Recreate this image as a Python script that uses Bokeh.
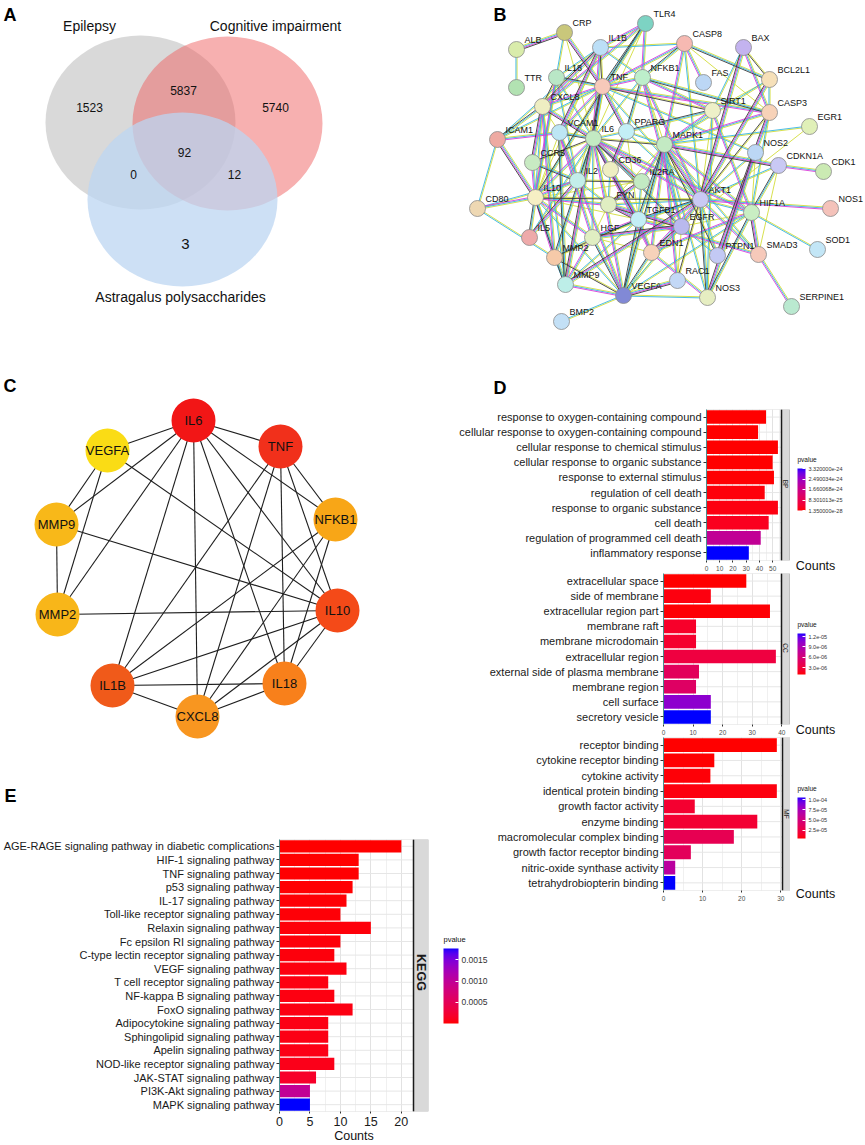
import math
from bokeh.plotting import figure
from bokeh.layouts import row, column
from bokeh.models import (Range1d, FactorRange, ColorBar, LinearColorMapper, FixedTicker,
                          CustomJSTickFormatter, Span, BoxAnnotation, Label, ColumnDataSource)
from bokeh.transform import transform
from bokeh.core.properties import value
from bokeh.embed import file_html
from bokeh.resources import INLINE

FONT = "Liberation Sans"

# ============================ DATA ============================
venn_sets = ["Epilepsy", "Cognitive impairment", "Astragalus polysaccharides"]
# Epilepsy only, Epi&Cog, Cog only, all three, Epi&Ast, Cog&Ast, Ast only
venn_region_counts = [1523, 5837, 5740, 92, 0, 12, 3]

hub_genes = ["IL6", "TNF", "NFKB1", "IL10", "IL18", "CXCL8", "IL1B", "MMP2", "MMP9", "VEGFA"]
hub_edges = [("IL6", "VEGFA"), ("IL6", "TNF"), ("IL6", "MMP9"), ("IL6", "MMP2"), ("IL6", "IL1B"),
             ("IL6", "CXCL8"), ("IL6", "IL18"), ("IL6", "IL10"), ("IL6", "NFKB1"),
             ("TNF", "IL1B"), ("TNF", "CXCL8"), ("TNF", "IL18"), ("TNF", "IL10"), ("TNF", "NFKB1"),
             ("VEGFA", "MMP9"), ("VEGFA", "MMP2"), ("VEGFA", "IL10"),
             ("MMP9", "MMP2"), ("MMP9", "IL10"), ("MMP2", "IL10"),
             ("NFKB1", "IL1B"), ("NFKB1", "CXCL8"), ("NFKB1", "IL18"),
             ("IL10", "IL1B"), ("IL10", "CXCL8"), ("IL10", "IL18"),
             ("IL1B", "IL18"), ("IL1B", "CXCL8"), ("CXCL8", "IL18")]

string_genes = ["TLR4", "CRP", "ALB", "TTR", "IL1B", "CASP8", "BAX", "IL18", "TNF", "NFKB1", "FAS",
                "BCL2L1", "CXCL8", "SIRT1", "CASP3", "EGR1", "ICAM1", "VCAM1", "IL6", "PPARG", "MAPK1",
                "NOS2", "CDKN1A", "CDK1", "CCR5", "CD36", "IL2", "IL2RA", "IL10", "CD80", "FYN", "AKT1",
                "HIF1A", "NOS1", "TGFB1", "EGFR", "IL5", "HGF", "SOD1", "SMAD3", "EDN1", "PTPN1", "MMP2",
                "RAC1", "MMP9", "VEGFA", "NOS3", "SERPINE1", "BMP2"]
string_edges = [
    ("ALB", "CRP"), ("ALB", "TTR"), ("CRP", "IL6"), ("CRP", "TNF"), ("CRP", "IL10"),
    ("TLR4", "IL1B"), ("TLR4", "TNF"), ("TLR4", "IL6"), ("TLR4", "NFKB1"), ("TLR4", "IL10"), ("TLR4", "CXCL8"),
    ("IL1B", "CASP8"), ("IL1B", "TNF"), ("IL1B", "IL6"), ("IL1B", "IL18"), ("IL1B", "CXCL8"), ("IL1B", "NFKB1"),
    ("IL1B", "IL10"), ("IL1B", "VCAM1"), ("IL1B", "ICAM1"),
    ("CASP8", "FAS"), ("CASP8", "BCL2L1"), ("CASP8", "CASP3"), ("CASP8", "TNF"), ("CASP8", "NFKB1"),
    ("CASP8", "MAPK1"), ("CASP8", "AKT1"),
    ("BAX", "BCL2L1"), ("BAX", "CASP3"), ("BAX", "SIRT1"), ("BAX", "AKT1"),
    ("BCL2L1", "CASP3"), ("BCL2L1", "SIRT1"), ("BCL2L1", "AKT1"), ("BCL2L1", "MAPK1"),
    ("TNF", "NFKB1"), ("TNF", "IL6"), ("TNF", "IL10"), ("TNF", "CXCL8"), ("TNF", "IL18"), ("TNF", "VCAM1"),
    ("TNF", "ICAM1"), ("TNF", "SIRT1"), ("TNF", "CASP3"), ("TNF", "NOS2"), ("TNF", "MMP9"), ("TNF", "AKT1"),
    ("TNF", "IL2"), ("TNF", "PPARG"),
    ("NFKB1", "IL6"), ("NFKB1", "SIRT1"), ("NFKB1", "CASP3"), ("NFKB1", "MAPK1"), ("NFKB1", "AKT1"),
    ("NFKB1", "PPARG"), ("NFKB1", "EGFR"),
    ("IL18", "IL6"), ("IL18", "CXCL8"), ("IL18", "IL10"), ("IL18", "IL2"),
    ("CXCL8", "IL6"), ("CXCL8", "IL10"), ("CXCL8", "VCAM1"), ("CXCL8", "CCR5"), ("CXCL8", "MMP9"),
    ("CXCL8", "MMP2"), ("CXCL8", "ICAM1"),
    ("SIRT1", "AKT1"), ("SIRT1", "MAPK1"), ("SIRT1", "PPARG"), ("SIRT1", "HIF1A"), ("SIRT1", "NOS3"),
    ("CASP3", "AKT1"), ("CASP3", "MAPK1"), ("CASP3", "HIF1A"), ("CASP3", "PTPN1"),
    ("EGR1", "MAPK1"), ("EGR1", "EGFR"),
    ("ICAM1", "IL10"), ("ICAM1", "CD80"), ("ICAM1", "VCAM1"),
    ("VCAM1", "IL6"), ("VCAM1", "IL10"), ("VCAM1", "HGF"), ("VCAM1", "MMP9"), ("VCAM1", "VEGFA"),
    ("IL6", "PPARG"), ("IL6", "MAPK1"), ("IL6", "IL10"), ("IL6", "IL2"), ("IL6", "IL2RA"), ("IL6", "CD36"),
    ("IL6", "FYN"), ("IL6", "TGFB1"), ("IL6", "HGF"), ("IL6", "VEGFA"), ("IL6", "MMP2"), ("IL6", "MMP9"),
    ("IL6", "AKT1"), ("IL6", "EGFR"), ("IL6", "EDN1"), ("IL6", "IL5"), ("IL6", "CCR5"), ("IL6", "HIF1A"),
    ("PPARG", "MAPK1"), ("PPARG", "CD36"), ("PPARG", "AKT1"), ("PPARG", "TGFB1"),
    ("MAPK1", "AKT1"), ("MAPK1", "EGFR"), ("MAPK1", "HIF1A"), ("MAPK1", "TGFB1"), ("MAPK1", "FYN"),
    ("MAPK1", "IL2RA"), ("MAPK1", "VEGFA"), ("MAPK1", "RAC1"), ("MAPK1", "SMAD3"), ("MAPK1", "PTPN1"),
    ("MAPK1", "EDN1"), ("MAPK1", "NOS3"), ("MAPK1", "CDKN1A"),
    ("NOS2", "AKT1"), ("NOS2", "HIF1A"), ("NOS2", "NOS3"),
    ("CDKN1A", "AKT1"), ("CDKN1A", "CDK1"), ("CDKN1A", "HIF1A"), ("CDKN1A", "SMAD3"),
    ("CCR5", "IL10"), ("CCR5", "IL2"), ("CD36", "TGFB1"), ("CD36", "FYN"),
    ("IL2", "IL2RA"), ("IL2", "IL10"), ("IL2", "FYN"), ("IL2", "IL5"), ("IL2", "CD80"),
    ("IL2RA", "IL10"), ("IL2RA", "FYN"), ("IL2RA", "TGFB1"),
    ("IL10", "CD80"), ("IL10", "IL5"), ("IL10", "TGFB1"), ("IL10", "HGF"), ("IL10", "MMP9"), ("IL10", "MMP2"),
    ("IL10", "VEGFA"), ("IL10", "AKT1"), ("IL10", "FYN"), ("CD80", "MMP2"),
    ("FYN", "EGFR"), ("FYN", "AKT1"), ("FYN", "HGF"), ("FYN", "TGFB1"),
    ("AKT1", "HIF1A"), ("AKT1", "EGFR"), ("AKT1", "TGFB1"), ("AKT1", "VEGFA"), ("AKT1", "NOS1"), ("AKT1", "NOS3"),
    ("AKT1", "SMAD3"), ("AKT1", "PTPN1"), ("AKT1", "RAC1"), ("AKT1", "EDN1"), ("AKT1", "HGF"), ("AKT1", "MMP9"),
    ("HIF1A", "VEGFA"), ("HIF1A", "EGFR"), ("HIF1A", "SMAD3"), ("HIF1A", "SOD1"), ("HIF1A", "EDN1"), ("HIF1A", "NOS3"),
    ("TGFB1", "EGFR"), ("TGFB1", "SMAD3"), ("TGFB1", "VEGFA"), ("TGFB1", "HGF"), ("TGFB1", "MMP9"),
    ("TGFB1", "MMP2"), ("TGFB1", "EDN1"),
    ("EGFR", "VEGFA"), ("EGFR", "HGF"), ("EGFR", "PTPN1"), ("EGFR", "RAC1"), ("EGFR", "EDN1"),
    ("HGF", "MMP2"), ("HGF", "MMP9"), ("HGF", "VEGFA"), ("HGF", "EDN1"),
    ("SMAD3", "SERPINE1"), ("EDN1", "VEGFA"), ("EDN1", "NOS3"),
    ("MMP2", "MMP9"), ("MMP2", "VEGFA"), ("MMP9", "VEGFA"),
    ("VEGFA", "NOS3"), ("VEGFA", "RAC1"), ("VEGFA", "BMP2"),
]

bp_terms = ["response to oxygen-containing compound", "cellular response to oxygen-containing compound",
            "cellular response to chemical stimulus", "cellular response to organic substance",
            "response to external stimulus", "regulation of cell death", "response to organic substance",
            "cell death", "regulation of programmed cell death", "inflammatory response"]
bp_counts = [45, 39, 54, 50, 51, 44, 54, 47, 41, 32]
bp_pvalue = [1.35e-28, 3e-28, 1e-27, 5e-27, 2e-26, 6e-26, 1e-25, 2.2e-25, 1.85e-24, 3.32e-24]

cc_terms = ["extracellular space", "side of membrane", "extracellular region part", "membrane raft",
            "membrane microdomain", "extracellular region", "external side of plasma membrane",
            "membrane region", "cell surface", "secretory vesicle"]
cc_counts = [28, 16, 36, 11, 11, 38, 12, 11, 16, 16]
cc_pvalue = [1.0e-6, 1.3e-6, 1.1e-6, 2.2e-6, 2.4e-6, 3.2e-6, 4.6e-6, 5.0e-6, 1.05e-5, 1.29e-5]

mf_terms = ["receptor binding", "cytokine receptor binding", "cytokine activity", "identical protein binding",
            "growth factor activity", "enzyme binding", "macromolecular complex binding",
            "growth factor receptor binding", "nitric-oxide synthase activity", "tetrahydrobiopterin binding"]
mf_counts = [29, 13, 12, 29, 8, 24, 18, 7, 3, 3]
mf_pvalue = [5.6e-6, 6e-6, 7e-6, 8e-6, 1.8e-5, 1.9e-5, 3.2e-5, 3.5e-5, 6.5e-5, 1.05e-4]

kegg_terms = ["AGE-RAGE signaling pathway in diabetic complications", "HIF-1 signaling pathway",
              "TNF signaling pathway", "p53 signaling pathway", "IL-17 signaling pathway",
              "Toll-like receptor signaling pathway", "Relaxin signaling pathway",
              "Fc epsilon RI signaling pathway", "C-type lectin receptor signaling pathway",
              "VEGF signaling pathway", "T cell receptor signaling pathway", "NF-kappa B signaling pathway",
              "FoxO signaling pathway", "Adipocytokine signaling pathway", "Sphingolipid signaling pathway",
              "Apelin signaling pathway", "NOD-like receptor signaling pathway", "JAK-STAT signaling pathway",
              "PI3K-Akt signaling pathway", "MAPK signaling pathway"]
kegg_counts = [20, 13, 13, 12, 11, 10, 15, 10, 9, 11, 8, 9, 12, 8, 8, 8, 9, 6, 5, 5]
kegg_pvalue = [7e-6, 1.2e-5, 1.5e-5, 2e-5, 2.5e-5, 3e-5, 3.5e-5, 4e-5, 4.5e-5, 5e-5, 5.5e-5, 6e-5,
               6.5e-5, 7e-5, 7.5e-5, 8e-5, 9e-5, 1.8e-4, 9.7e-4, 1.76e-3]

bp_ticks = [1.35e-28, 8.301013e-25, 1.660068e-24, 2.490034e-24, 3.32e-24]
cc_ticks = [3e-6, 6e-6, 9e-6, 1.2e-5]
mf_ticks = [2.5e-5, 5e-5, 7.5e-5, 1e-4]
kegg_ticks = [5e-4, 1e-3, 1.5e-3]

# ============================ STYLE / LAYOUT ============================
def _lin(c):
    c = c / 255.0
    return c / 12.92 if c <= 0.04045 else ((c + 0.055) / 1.055) ** 2.4

def _lab(rgb):
    R, G, B = (_lin(v) for v in rgb)
    X = (0.4124 * R + 0.3576 * G + 0.1805 * B) / 0.95047
    Y = 0.2126 * R + 0.7152 * G + 0.0722 * B
    Z = (0.0193 * R + 0.1192 * G + 0.9505 * B) / 1.08883
    f = lambda t: t ** (1 / 3) if t > 0.008856 else 7.787 * t + 16 / 116
    return 116 * f(Y) - 16, 500 * (f(X) - f(Y)), 200 * (f(Y) - f(Z))

def _rgb(L, a, b):
    fy = (L + 16) / 116
    fx, fz = fy + a / 500, fy - b / 200
    fi = lambda t: t ** 3 if t ** 3 > 0.008856 else (t - 16 / 116) / 7.787
    X, Y, Z = 0.95047 * fi(fx), fi(fy), 1.08883 * fi(fz)
    r = 3.2406 * X - 1.5372 * Y - 0.4986 * Z
    g = -0.9689 * X + 1.8758 * Y + 0.0415 * Z
    bb = 0.0557 * X - 0.2040 * Y + 1.0570 * Z
    out = []
    for c in (r, g, bb):
        c = 12.92 * c if c <= 0.0031308 else 1.055 * max(c, 0) ** (1 / 2.4) - 0.055
        out.append(int(round(min(max(c, 0), 1) * 255)))
    return "#%02x%02x%02x" % tuple(out)

_l0, _l1 = _lab((255, 0, 0)), _lab((0, 0, 255))
PALETTE = [_rgb(*[a + (b - a) * i / 255 for a, b in zip(_l0, _l1)]) for i in range(256)]

def fmt(prec, kind):
    return CustomJSTickFormatter(args=dict(prec=prec, kind=kind), code="""
        if (kind == 'f') { return tick.toFixed(prec); }
        const s = tick.toExponential(prec).split('e');
        const ex = parseInt(s[1]); const a = Math.abs(ex);
        return s[0] + 'e' + (ex < 0 ? '-' : '+') + (a < 10 ? '0' + a : String(a));
    """)

def canvas(x0, x1, y0, y1):
    p = figure(width=x1 - x0, height=y1 - y0, x_range=Range1d(x0, x1), y_range=Range1d(y1, y0),
               x_axis_type=None, y_axis_type=None, output_backend="svg", toolbar_location=None,
               min_border=0, title=None)
    p.frame_align = False
    p.outline_line_color = None
    p.background_fill_color = "white"
    p.border_fill_color = "white"
    return p

def txt(p, xs, ys, texts, size, style="normal", align="center", baseline="middle", color="#111111"):
    p.text(x=xs, y=ys, text=texts, text_font=value(FONT), text_font_size=size, text_font_style=style,
           text_align=align, text_baseline=baseline, text_color=color)

# ---------------- Panel A : Venn ----------------
pA = canvas(0, 430, 0, 320)
venn_src = ColumnDataSource(dict(x=[140, 227, 182], y=[122, 123, 199], w=[190, 190, 190], h=[174, 174, 174],
                                 c=["#b3b3b3", "#ef6161", "#bcd6f2"], a=[0.5, 0.5, 0.75]))
pA.ellipse(x="x", y="y", width="w", height="h", fill_color="c", fill_alpha="a", line_color=None, source=venn_src)
txt(pA, [89, 275, 180], [25, 25, 296], venn_sets, "14px")
txt(pA, [89, 183, 275, 184, 133, 234], [107, 90, 107, 152, 174, 174],
    [str(v) for v in venn_region_counts[:6]], "12px")
txt(pA, [185], [243], [str(venn_region_counts[6])], "15px")
txt(pA, [3], [4], ["A"], "18px", "bold", "left", "top", "#000000")

# ---------------- Panel B : STRING network ----------------
string_pos = {
    "TLR4": (645, 23), "CRP": (564, 32), "ALB": (516, 49), "TTR": (516, 87), "IL1B": (600, 47),
    "CASP8": (684, 43), "BAX": (743, 47), "IL18": (556, 77), "TNF": (602, 86), "NFKB1": (642, 77),
    "FAS": (703, 82), "BCL2L1": (769, 79), "CXCL8": (542, 106), "SIRT1": (712, 110), "CASP3": (769, 112),
    "EGR1": (809, 126), "ICAM1": (497, 139), "VCAM1": (559, 132), "IL6": (593, 138), "PPARG": (626, 131),
    "MAPK1": (664, 144), "NOS2": (755, 152), "CDKN1A": (778, 165), "CDK1": (823, 171), "CCR5": (532, 162),
    "CD36": (610, 169), "IL2": (577, 180), "IL2RA": (641, 181), "IL10": (535, 197), "CD80": (477, 208),
    "FYN": (608, 204), "AKT1": (700, 199), "HIF1A": (751, 212), "NOS1": (830, 208), "TGFB1": (638, 219),
    "EGFR": (681, 226), "IL5": (529, 237), "HGF": (592, 237), "SOD1": (817, 249), "SMAD3": (758, 254),
    "EDN1": (651, 252), "PTPN1": (717, 255), "MMP2": (554, 257), "RAC1": (677, 280), "MMP9": (565, 284),
    "VEGFA": (623, 295), "NOS3": (707, 297), "SERPINE1": (791, 306), "BMP2": (561, 321)}
string_fill = {
    "TLR4": "#7dd3c3", "CRP": "#c9c77b", "ALB": "#d9ecab", "TTR": "#b2e2b2", "IL1B": "#bcdff7",
    "CASP8": "#f6b9b2", "BAX": "#c3b3ef", "IL18": "#b9e7c6", "TNF": "#f7c9ba", "NFKB1": "#bdeecb",
    "FAS": "#bcd7f5", "BCL2L1": "#f6e0b9", "CXCL8": "#eeeec2", "SIRT1": "#eef0c8", "CASP3": "#f7d2b8",
    "EGR1": "#e0f0b8", "ICAM1": "#eeaaa2", "VCAM1": "#bde6f4", "IL6": "#c3eac3", "PPARG": "#c3eff6",
    "MAPK1": "#c3eac3", "NOS2": "#bcd7f5", "CDKN1A": "#c9c9f4", "CDK1": "#cbeab3", "CCR5": "#c8eac3",
    "CD36": "#eeeec2", "IL2": "#c3eeea", "IL2RA": "#c3eac3", "IL10": "#f6efc4", "CD80": "#eed8b3",
    "FYN": "#e0eec2", "AKT1": "#c9c9f4", "HIF1A": "#c9eec3", "NOS1": "#f4c2ba", "TGFB1": "#c3eef6",
    "EGFR": "#b9b9ee", "IL5": "#eeaaaa", "HGF": "#e0eec2", "SOD1": "#c3e6f6", "SMAD3": "#f6c9ba",
    "EDN1": "#f7d2ba", "PTPN1": "#c3c9f4", "MMP2": "#f6caa9", "RAC1": "#c3d8f6", "MMP9": "#bdeee8",
    "VEGFA": "#8189d6", "NOS3": "#e6eec2", "SERPINE1": "#bae9d0", "BMP2": "#c3e0f6"}

pB = canvas(430, 865, 0, 409)
edge_cols = {"y": "#d2dc3a", "c": "#36b4e2", "m": "#d93cd9", "d": "#3a3a3a"}
lines = {k: ([], []) for k in "ycmd"}
for i, (a, b) in enumerate(string_edges):
    (x1, y1), (x2, y2) = string_pos[a], string_pos[b]
    L = math.hypot(x2 - x1, y2 - y1)
    nx, ny = -(y2 - y1) / L, (x2 - x1) / L
    kinds = (["y"] + (["c"] if i % 5 != 2 else []) + (["m"] if i % 5 in (0, 3) else [])
             + (["d"] if i % 3 == 0 else []))
    for j, k in enumerate(kinds):
        o = (j - (len(kinds) - 1) / 2) * 1.1
        lines[k][0].append([x1 + nx * o, x2 + nx * o])
        lines[k][1].append([y1 + ny * o, y2 + ny * o])
for k in "ycmd":
    pB.multi_line(xs=lines[k][0], ys=lines[k][1], line_color=edge_cols[k], line_width=0.9)
sx = [string_pos[g][0] for g in string_genes]
sy = [string_pos[g][1] for g in string_genes]
pB.circle(x=sx, y=sy, radius=8, fill_color=[string_fill[g] for g in string_genes],
          line_color="#8a8a8a", line_width=0.8)
txt(pB, [x + 8 for x in sx], [y - 10 for y in sy], string_genes, "9px", align="left")
txt(pB, [493], [4], ["B"], "18px", "bold", "left", "top", "#000000")
txt(pB, [493], [377], ["D"], "18px", "bold", "left", "top", "#000000")

# ---------------- Panel C : hub network ----------------
hub_pos = {"IL6": (193, 420), "TNF": (280, 446), "NFKB1": (335, 519), "IL10": (337, 610),
           "IL18": (284, 683), "CXCL8": (197, 716), "IL1B": (112, 685), "MMP2": (57, 614),
           "MMP9": (56, 524), "VEGFA": (107, 450)}
hub_fill = {"IL6": "#f21616", "TNF": "#f1301b", "NFKB1": "#f8a617", "IL10": "#f44a18", "IL18": "#f8801b",
            "CXCL8": "#f89620", "IL1B": "#f05a1a", "MMP2": "#f8b619", "MMP9": "#f8b819", "VEGFA": "#fadc15"}
pC = canvas(0, 430, 320, 810)
pC.multi_line(xs=[[hub_pos[a][0], hub_pos[b][0]] for a, b in hub_edges],
              ys=[[hub_pos[a][1], hub_pos[b][1]] for a, b in hub_edges], line_color="#1e1e1e", line_width=1.1)
hx = [hub_pos[g][0] for g in hub_genes]
hy = [hub_pos[g][1] for g in hub_genes]
pC.circle(x=hx, y=hy, radius=22, fill_color=[hub_fill[g] for g in hub_genes], line_color=None)
txt(pC, hx, hy, hub_genes, "13px")
txt(pC, [3], [375], ["C"], "18px", "bold", "left", "top", "#000000")
txt(pC, [4], [785], ["E"], "18px", "bold", "left", "top", "#000000")

# ---------------- Bar panels (D, E) ----------------
def bar_panel(terms, counts, pvals, mapper, W, H, mbl, mbr, mbt, mbb, panel_px, strip_px, expand,
              ticks, minor, strip_text, strip_size, strip_style, label_size, tick_size, tick_color,
              xlabel=None):
    frame_w = W - mbl - mbr
    frame_h = H - mbt - mbb
    panel_max = max(counts) * expand
    unit = panel_px / panel_max
    x_end = frame_w / unit
    strip_end = panel_max + strip_px / unit
    p = figure(width=W, height=H, title=None, x_range=Range1d(0, x_end),
               y_range=FactorRange(factors=list(reversed(terms))),
               output_backend="svg", toolbar_location=None,
               min_border_left=mbl, min_border_right=mbr, min_border_top=mbt, min_border_bottom=mbb)
    p.frame_align = False
    p.outline_line_color = None
    p.background_fill_color = "white"
    p.border_fill_color = "white"
    p.ygrid.grid_line_color = None
    tk = FixedTicker(ticks=ticks, minor_ticks=minor)
    p.xaxis.ticker = tk
    p.xgrid.ticker = tk
    p.xgrid.bounds = (0, panel_max)
    p.xgrid.grid_line_color = "#e2e2e2"
    p.xgrid.minor_grid_line_color = "#f0f0f0"
    src = ColumnDataSource(dict(term=terms, count=counts, p=pvals, zero=[0] * len(terms),
                                edge=[panel_max] * len(terms)))
    p.segment(x0="zero", x1="edge", y0="term", y1="term", source=src, line_color="#e6e6e6", line_width=1)
    p.hbar(y="term", left=0, right="count", height=0.9, source=src,
           fill_color=transform("p", mapper), line_color=None)
    p.add_layout(BoxAnnotation(left=0, right=panel_max, fill_alpha=0, line_color="#8a8a8a", line_width=1))
    p.add_layout(BoxAnnotation(left=panel_max, right=strip_end, fill_color="#d9d9d9", fill_alpha=1,
                               line_color="#555555", line_width=1))
    p.add_layout(Span(location=panel_max, dimension="height", line_color="#1a1a1a", line_width=1.5))
    p.add_layout(Label(x=(panel_max + strip_end) / 2, y=frame_h / 2, y_units="screen", text=strip_text,
                       angle=-math.pi / 2, text_align="center", text_baseline="middle", text_font=FONT,
                       text_font_size=strip_size, text_font_style=strip_style, text_color="#1a1a1a"))
    xa = p.xaxis[0]
    xa.axis_line_color = None
    xa.major_tick_line_color = "#333333"
    xa.major_tick_in = 0
    xa.major_tick_out = 2
    xa.minor_tick_line_color = None
    xa.major_label_text_font = FONT
    xa.major_label_text_font_size = tick_size
    xa.major_label_text_color = tick_color
    xa.major_label_standoff = 1
    if xlabel:
        xa.axis_label = xlabel
        xa.axis_label_text_font = FONT
        xa.axis_label_text_font_size = tick_size
        xa.axis_label_text_font_style = "normal"
        xa.axis_label_text_color = "#111111"
        xa.axis_label_standoff = 0
    ya = p.yaxis[0]
    ya.axis_line_color = "#3f8f8f"
    ya.major_tick_line_color = "#333333"
    ya.major_tick_in = 0
    ya.major_tick_out = 3
    ya.major_label_text_font = FONT
    ya.major_label_text_font_size = label_size
    ya.major_label_text_color = "#1a1a1a"
    ya.major_label_standoff = 2
    return p

def cbar(mapper, ticks, formatter, loc, w, h, label_size):
    return ColorBar(color_mapper=mapper, ticker=FixedTicker(ticks=ticks), formatter=formatter,
                    orientation="vertical", location=loc, width=w, height=h, padding=0, margin=0,
                    title=None, major_label_text_font=FONT, major_label_text_font_size=label_size,
                    major_label_text_color="#333333", label_standoff=3, bar_line_color=None,
                    major_tick_line_color="white", major_tick_in=3, major_tick_out=0,
                    minor_tick_line_color=None, background_fill_alpha=0, border_line_color=None)

def legend_canvas(x0, x1, y0, y1, mapper, ticks, formatter, bar_x, bar_top, bar_bottom, bar_w,
                  title_size, label_size, counts_xy=None):
    c = canvas(x0, x1, y0, y1)
    c.add_layout(cbar(mapper, ticks, formatter, (bar_x - x0, y1 - bar_bottom), bar_w, bar_bottom - bar_top,
                      label_size))
    txt(c, [bar_x], [bar_top - 9], ["pvalue"], title_size, align="left")
    if counts_xy:
        txt(c, [counts_xy[0]], [counts_xy[1]], ["Counts"], "12.5px")
    return c

bp_map = LinearColorMapper(palette=PALETTE, low=min(bp_pvalue), high=max(bp_pvalue))
cc_map = LinearColorMapper(palette=PALETTE, low=min(cc_pvalue), high=max(cc_pvalue))
mf_map = LinearColorMapper(palette=PALETTE, low=min(mf_pvalue), high=max(mf_pvalue))
kegg_map = LinearColorMapper(palette=PALETTE, low=min(kegg_pvalue), high=max(kegg_pvalue))

pBP = bar_panel(bp_terms, bp_counts, bp_pvalue, bp_map, 360, 164, 276, 0, 0, 11, 75, 8, 1.05,
                [0, 10, 20, 30, 40, 50], [5, 15, 25, 35, 45, 55], "BP", "6.5px", "normal",
                "11px", "6.5px", "#4d4d4d")
gBP = legend_canvas(790, 865, 409, 573, bp_map, bp_ticks, fmt(6, "e"), 797, 468, 510, 8, "6.5px", "5.5px",
                    (815, 565))

pCC = bar_panel(cc_terms, cc_counts, cc_pvalue, cc_map, 360, 164, 233, 0, 0, 11, 118, 8, 1.05,
                [0, 10, 20, 30, 40], [5, 15, 25, 35], "CC", "6.5px", "normal",
                "11px", "6.5px", "#4d4d4d")
gCC = legend_canvas(790, 865, 573, 737, cc_map, cc_ticks, fmt(1, "e"), 797, 633, 674, 8, "6.5px", "5.5px",
                    (815, 729))

pMF = bar_panel(mf_terms, mf_counts, mf_pvalue, mf_map, 360, 168, 233, 0, 0, 15, 119, 8, 1.05,
                [0, 10, 20, 30], [5, 15, 25], "MF", "6.5px", "normal",
                "11px", "6.5px", "#4d4d4d")
gMF = legend_canvas(790, 865, 737, 905, mf_map, mf_ticks, fmt(1, "e"), 797, 797, 838, 8, "6.5px", "5.5px",
                    (815, 893))

pE = bar_panel(kegg_terms, kegg_counts, kegg_pvalue, kegg_map, 430, 335, 279, 2, 29, 28, 134, 15, 1.1,
               [0, 5, 10, 15, 20], [2.5, 7.5, 12.5, 17.5], "KEGG", "12.5px", "bold",
               "11px", "12.5px", "#1a1a1a", xlabel="Counts")

gE = legend_canvas(430, 865, 905, 1145, kegg_map, kegg_ticks, fmt(4, "f"), 443, 948, 1023, 15,
                   "7.5px", "8.5px")

layout = row(column(pA, pC, pE),
             column(pB, row(pBP, gBP), row(pCC, gCC), row(pMF, gMF), gE))
open("out.html", "w").write(file_html(layout, INLINE))
